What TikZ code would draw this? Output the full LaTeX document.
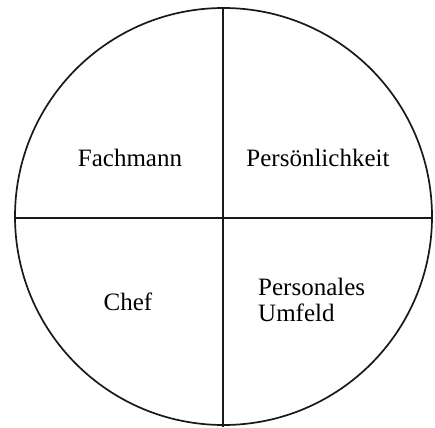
\documentclass[tikz,border=0pt]{standalone}
\usepackage{fontspec}
\setmainfont{Liberation Serif}
\begin{document}
\begin{tikzpicture}[x=1pt,y=-1pt,
  lbl/.style={font=\fontsize{25}{26}\selectfont, inner sep=0pt, align=left},
  ln/.style={line width=1.7pt, draw=black!90}]
\useasboundingbox (0,0) rectangle (435,427);
\coordinate (c) at (223.5,216.5);
\draw[ln] (c) circle[radius=208.5];
\coordinate (l) at (15,218);
\coordinate (r) at (432,218);
\coordinate (t) at (223,8);
\coordinate (b) at (223,427);
\draw[ln] (l) -- (r);
\draw[ln] (t) -- (b);
\node[lbl] (fach) at (130,158) {Fachmann};
\node[lbl] (pers) at (318,158) {Persönlichkeit};
\node[lbl] (chef) at (128,302) {Chef};
\node[lbl, anchor=west] (umf) at (258,300) {Personales\\Umfeld};
\end{tikzpicture}
\end{document}
